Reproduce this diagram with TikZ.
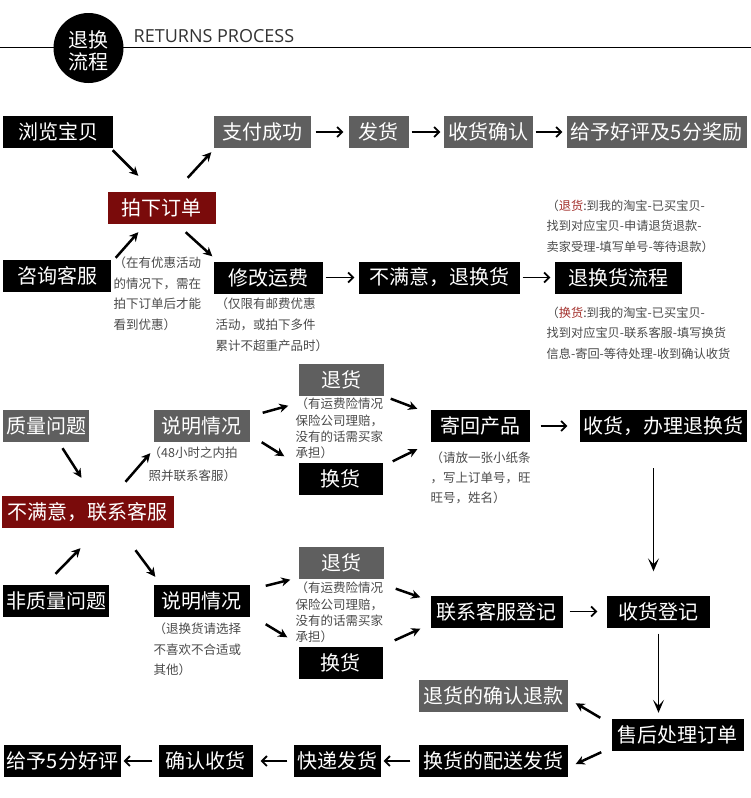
\documentclass[tikz,border=0pt]{standalone}
\usepackage{fontspec}
\usepackage{xcolor}
\usepackage{tikz}
\usetikzlibrary{arrows.meta,calc}
\newfontfamily\cjk{Noto Sans CJK SC}
\newfontfamily\headfont{Open Sans}
\definecolor{boxgray}{HTML}{5F5F5F}
\definecolor{boxred}{HTML}{7A0B0B}
\definecolor{notegray}{HTML}{4A4A4A}
\definecolor{notered}{HTML}{A3302C}
\definecolor{headgray}{HTML}{333333}
\newcommand{\boxfont}{\cjk\fontsize{20pt}{24pt}\selectfont}

\begin{document}
\begin{tikzpicture}[x=1pt, y=-1pt,
  box/.style={inner sep=0pt, minimum height=32pt, text=white, font=\boxfont},
  blackbox/.style={box, fill=black},
  graybox/.style={box, fill=boxgray},
  redbox/.style={box, fill=boxred},
  note/.style={anchor=north west, inner sep=0pt, align=left, text=notegray},
  darr/.style={line width=2.5pt, -{Stealth[length=9pt, width=9pt]}},
  harr/.style={line width=1.8pt, -{Straight Barb[length=5pt, width=10pt]}},
  varr/.style={line width=1.5pt, -{Stealth[length=13pt, width=11pt, inset=6pt]}}]

  % 背景
  \fill[white] (0,0) rectangle (750,798);

  % 标题
  \draw[line width=1pt] (0,47) -- (750,47);
  \node[circle, fill=black, minimum size=70pt, inner sep=0pt] (hdcircle) at (88,48) {};
  \node[text=white, font=\cjk\fontsize{20pt}{22pt}\selectfont, align=center, inner sep=0pt]
    (hdtext) at (88,51) {退换\\流程};
  \node[anchor=west, inner sep=0pt, text=headgray, font=\headfont\fontsize{18pt}{20pt}\selectfont]
    (hdtitle) at (133,36) {RETURNS PROCESS};

  % 购买流程
  \node[blackbox, minimum width=109pt] (liulan)   at (57.5,132)  {浏览宝贝};
  \node[graybox,  minimum width=97pt]  (zhifu)    at (261.5,132) {支付成功};
  \node[graybox,  minimum width=60pt]  (fahuo)    at (378,132)   {发货};
  \node[graybox,  minimum width=89pt]  (shouhuo)  at (487.5,132) {收货确认};
  \node[graybox,  minimum width=180pt] (haoping)  at (656,132)   {给予好评及5分奖励};
  \node[redbox,   minimum width=108pt] (paixia)   at (161,208)   {拍下订单};
  \node[blackbox, minimum width=107pt] (zixun)    at (56.5,276)  {咨询客服};
  \node[blackbox, minimum width=109pt] (xiugai)   at (267.5,277.5) {修改运费};
  \node[blackbox, minimum width=161pt] (bumanyi)  at (438.5,277.5) {不满意，退换货};
  \node[blackbox, minimum width=127pt] (liucheng) at (617.5,277.5) {退换货流程};

  \node[note, font=\cjk\fontsize{12.5pt}{20.5pt}\selectfont] (zxnote) at (113,257)
    {（在有优惠活动\\的情况下，需在\\拍下订单后才能\\看到优惠）};
  \node[note, font=\cjk\fontsize{12.5pt}{21pt}\selectfont] (yfnote) at (215,298)
    {（仅限有邮费优惠\\活动，或拍下多件\\累计不超重产品时）};
  \node[note, font=\cjk\fontsize{12.2pt}{20.5pt}\selectfont] (thnote) at (546,199.5)
    {（{\color{notered}退货}:到我的淘宝-已买宝贝-\\找到对应宝贝-申请退货退款-\\卖家受理-填写单号-等待退款）};
  \node[note, font=\cjk\fontsize{12.2pt}{20.5pt}\selectfont] (hhnote) at (546,306.5)
    {（{\color{notered}换货}:到我的淘宝-已买宝贝-\\找到对应宝贝-联系客服-填写换货\\信息-寄回-等待处理-收到确认收货};

  \draw[darr] ([shift={(0,2)}]liulan.south east) -- ([shift={(31,-16)}]paixia.north west);
  \draw[darr] ([shift={(-28,-14)}]paixia.north east) -- ([shift={(-2,4)}]zhifu.south west);
  \draw[darr] ([shift={(5,-2)}]zixun.north east) -- ([shift={(31,8)}]paixia.south west);
  \draw[darr] ([shift={(-30,8)}]paixia.south east) -- ([shift={(-1,-5)}]xiugai.north west);

  % 质量问题
  \node[graybox,  minimum width=85pt]  (zhiliang)  at (45.5,426) {质量问题};
  \node[redbox,   minimum width=171pt] (lianxi)    at (87.5,512) {不满意，联系客服};
  \node[graybox,  minimum width=96pt]  (shuoming1) at (201,426)  {说明情况};
  \node[graybox,  minimum width=85pt]  (tuihuo1)   at (340.5,379.5) {退货};
  \node[blackbox, minimum width=84pt]  (huanhuo1)  at (340,478.5) {换货};
  \node[blackbox, minimum width=99pt]  (jihui)     at (479.5,426) {寄回产品};
  \node[blackbox, minimum width=167pt] (banli)     at (662.5,426) {收货，办理退换货};

  \node[note, font=\cjk\fontsize{12.5pt}{23pt}\selectfont] (sm1note) at (148,447)
    {（48小时之内拍\\照并联系客服）};
  \node[note, font=\cjk\fontsize{12.5pt}{16.3pt}\selectfont] (th1note) at (295,398)
    {（有运费险情况\\保险公司理赔，\\没有的话需买家\\承担）};
  \node[note, font=\cjk\fontsize{12.5pt}{20pt}\selectfont] (jhnote) at (430,452)
    {（请放一张小纸条\\，写上订单号，旺\\旺号，姓名）};

  \draw[darr] ([shift={(16.5,6)}]zhiliang.south) -- ([shift={(-6.5,-18)}]lianxi.north);
  \draw[darr] ([shift={(37.5,-14)}]lianxi.north) -- ([shift={(-3,11)}]shuoming1.south west);
  \draw[darr] ([shift={(13,3)}]shuoming1.north east) -- ([shift={(-10,10)}]tuihuo1.south west);
  \draw[darr] ([shift={(12,0)}]shuoming1.south east) -- ([shift={(-14,-6)}]huanhuo1.north west);
  \draw[darr] ([shift={(7,3)}]tuihuo1.south east) -- ([shift={(-13,-1)}]jihui.north west);
  \draw[darr] ([shift={(10,-1)}]huanhuo1.north east) -- ([shift={(-13,7)}]jihui.south west);

  % 非质量问题
  \node[blackbox, minimum width=105pt] (feizhiliang) at (55.5,601) {非质量问题};
  \node[blackbox, minimum width=96pt]  (shuoming2)   at (201,601)  {说明情况};
  \node[graybox,  minimum width=85pt]  (tuihuo2)     at (340.5,562.5) {退货};
  \node[blackbox, minimum width=84pt]  (huanhuo2)    at (340,662.5) {换货};
  \node[blackbox, minimum width=132pt] (dengji)      at (496,611.5) {联系客服登记};
  \node[blackbox, minimum width=103pt] (shdengji)    at (657.5,611.5) {收货登记};
  \node[blackbox, minimum width=132pt] (shouhou)     at (677,735)   {售后处理订单};
  \node[graybox,  minimum width=149pt] (tuikuan)     at (492.5,696) {退货的确认退款};
  \node[blackbox, minimum width=149pt] (peisong)     at (492.5,761) {换货的配送发货};
  \node[blackbox, minimum width=87pt]  (kuaidi)      at (336.5,761) {快递发货};
  \node[blackbox, minimum width=94pt]  (queren)      at (205,761)   {确认收货};
  \node[blackbox, minimum width=116pt] (gei5)        at (62,761)    {给予5分好评};

  \node[note, font=\cjk\fontsize{12.5pt}{20.5pt}\selectfont] (sm2note) at (153,623)
    {（退换货请选择\\不喜欢不合适或\\其他）};
  \node[note, font=\cjk\fontsize{12.5pt}{16.3pt}\selectfont] (th2note) at (295,582)
    {（有运费险情况\\保险公司理赔，\\没有的话需买家\\承担）};

  \draw[darr] ([shift={(-0.5,-11)}]feizhiliang.north) -- ([shift={(-7.5,20)}]lianxi.south);
  \draw[darr] ([shift={(47.5,22)}]lianxi.south) -- ([shift={(2,-8)}]shuoming2.north west);
  \draw[darr] ([shift={(16,1)}]shuoming2.north east) -- ([shift={(-8,1)}]tuihuo2.south west);
  \draw[darr] ([shift={(16,7)}]shuoming2.south east) -- ([shift={(-11,-9)}]huanhuo2.north west);
  \draw[darr] ([shift={(12,10)}]tuihuo2.south east) -- ([shift={(-10,2)}]dengji.north west);
  \draw[darr] ([shift={(12,-6)}]huanhuo2.north east) -- ([shift={(-10,1)}]dengji.south west);
  \draw[darr] ([shift={(-11,-1)}]shouhou.north west) -- ([shift={(8,-9)}]tuikuan.south east);
  \draw[darr] ([shift={(-10,1)}]shouhou.south west) -- ([shift={(8,3)}]peisong.east);

  % 竖向箭头
  \draw[varr] ([shift={(-9.5,26)}]banli.south) -- ([shift={(-4.5,-24)}]shdengji.north);
  \draw[varr] ([shift={(0.5,6)}]shdengji.south) -- ([shift={(-19,-6)}]shouhou.north);

  % 横向箭头
  \foreach \a/\b/\s/\e in {zhifu/fahuo/5/5, fahuo/shouhuo/3/3, shouhuo/haoping/3/4,
      xiugai/bumanyi/3/4, bumanyi/liucheng/3/4, jihui/banli/11/12, dengji/shdengji/7/9}
    \draw[harr, shorten <=\s, shorten >=\e] (\a.east) -- (\b.west);
  \foreach \a/\b/\s/\e in {peisong/kuaidi/8/3, kuaidi/queren/6/8, queren/gei5/6/3}
    \draw[harr, shorten <=\s, shorten >=\e] (\a.west) -- (\b.east);
\end{tikzpicture}
\end{document}
